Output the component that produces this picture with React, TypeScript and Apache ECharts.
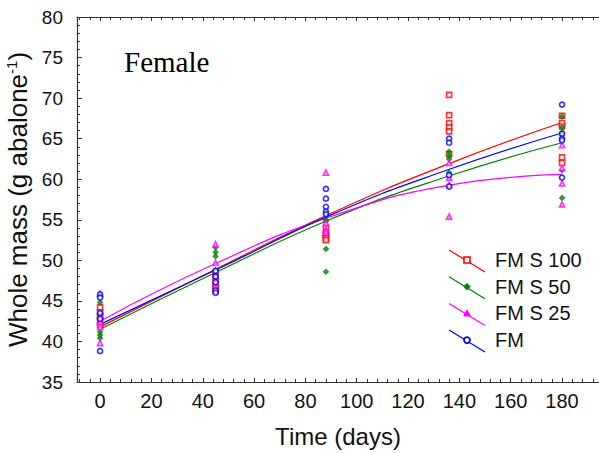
import React, { useEffect, useRef } from "react";
import * as echarts from "echarts";

// Sampling days of the measurements
const days = [0, 45, 88, 136, 180];

// Individual measurements (g abalone^-1), one inner array per sampling day
const fmS100 = [
  [44.2, 43.6, 43.1, 42.6, 42.0],
  [48.5, 47.8, 47.0, 46.6, 46.2],
  [54.0, 53.3, 53.0, 52.7, 52.5],
  [70.4, 67.9, 66.9, 66.4, 65.9, 63.1],
  [67.8, 66.9, 66.5, 62.7, 62.0],
];
const fmS50 = [
  [44.8, 41.2, 40.8, 40.4],
  [51.6, 51.0, 50.5, 48.8, 48.2],
  [55.0, 54.8, 51.4, 48.6],
  [63.4, 62.9, 62.5, 60.8],
  [67.7, 66.4, 65.8, 61.1, 57.7],
];
const fmS25 = [
  [45.9, 42.4, 41.8, 39.8],
  [52.0, 49.7, 48.0, 47.6, 47.2],
  [60.8, 54.6, 53.8, 53.5],
  [62.0, 60.2, 59.3, 55.4],
  [64.2, 61.4, 59.5, 56.9],
];
const fm = [
  [45.8, 45.4, 43.5, 42.8, 38.8],
  [48.7, 48.0, 47.3, 46.3, 46.0],
  [58.8, 57.6, 56.6, 56.0, 55.7],
  [65.0, 64.5, 60.5, 59.1],
  [69.2, 65.6, 65.0, 64.8, 60.2],
];

// Fitted growth curves at these days
const fitDays = [0, 45, 90, 135, 180];
const fitS100 = [41.8, 48.9, 55.8, 61.8, 67.0];
const fitS50 = [41.5, 48.5, 55.1, 60.3, 64.5];
const fitS25 = [42.5, 49.6, 55.4, 59.2, 60.6];
const fitFm = [42.1, 48.8, 55.6, 61.1, 65.7];

const seriesNames = ["FM S 100", "FM S 50", "FM S 25", "FM"];
const xTickLabels = ["0", "20", "40", "60", "80", "100", "120", "140", "160", "180"];

const COLORS = ["#ff0000", "#008000", "#ff00ff", "#0000ff"];
const SANS = "Liberation Sans, Arial, sans-serif";

function toPoints(groups: number[][]) {
  const out: number[][] = [];
  groups.forEach((vals, i) => vals.forEach((v) => out.push([days[i], v])));
  return out;
}
function toLine(vals: number[]) {
  return vals.map((v, i) => [fitDays[i], v]);
}

export default function App() {
  const ref = useRef<HTMLDivElement>(null);
  useEffect(() => {
    if (!ref.current) return;
    const chart = echarts.init(ref.current, null, { renderer: "svg" });
    const groups = [fmS100, fmS50, fmS25, fm];
    const fits = [fitS100, fitS50, fitS25, fitFm];
    const symbols = ["rect", "diamond", "triangle", "circle"];
    const hollow = [true, false, true, true];

    const lineSeries = fits.map((f, i) => ({
      type: "line",
      name: seriesNames[i],
      data: toLine(f),
      smooth: 0.5,
      showSymbol: false,
      silent: true,
      lineStyle: { color: COLORS[i], width: 1.2 },
      z: 2,
    }));
    const scatterSeries = groups.map((g, i) => ({
      type: "scatter",
      name: seriesNames[i] + " data",
      data: toPoints(g),
      symbol: symbols[i],
      symbolSize: i === 1 ? 6 : 5,
      itemStyle: hollow[i]
        ? { color: "#ffffff", borderColor: COLORS[i], borderWidth: 1.7 }
        : { color: COLORS[i], borderColor: COLORS[i], borderWidth: 0.6 },
      z: 3,
    }));

    // legend drawn as graphics (slanted line + marker + label)
    const legendEls: any[] = [];
    seriesNames.forEach((name, i) => {
      const cy = 260 + i * 26.7;
      const c = COLORS[i];
      legendEls.push({
        type: "line",
        shape: { x1: 449, y1: cy - 10, x2: 485, y2: cy + 12 },
        style: { stroke: c, lineWidth: 1.2 },
      });
      const mx = 467;
      if (i === 0) {
        legendEls.push({ type: "rect", shape: { x: mx - 3, y: cy - 3, width: 6, height: 6 }, style: { fill: "#fff", stroke: c, lineWidth: 1.6 } });
      } else if (i === 1) {
        legendEls.push({ type: "polygon", shape: { points: [[mx, cy - 3.5], [mx + 3.5, cy], [mx, cy + 3.5], [mx - 3.5, cy]] }, style: { fill: c, stroke: c, lineWidth: 0.5 } });
      } else if (i === 2) {
        legendEls.push({ type: "polygon", shape: { points: [[mx, cy - 3.5], [mx + 3.2, cy + 2.5], [mx - 3.2, cy + 2.5]] }, style: { fill: c, stroke: c, lineWidth: 1 } });
      } else {
        legendEls.push({ type: "circle", shape: { cx: mx, cy, r: 3 }, style: { fill: "#fff", stroke: c, lineWidth: 1.8 } });
      }
      legendEls.push({
        type: "text",
        x: 495,
        y: cy,
        style: { text: name, fill: "#111", font: `20px ${SANS}`, verticalAlign: "middle" },
      });
    });

    const axisColor = "#333";
    const xAxisCommon = {
      type: "value",
      min: -9,
      max: 194.4,
      splitNumber: 10,
      splitLine: { show: false },
      axisLine: { show: true, onZero: false, lineStyle: { color: axisColor, width: 1.2 } },
      axisTick: { show: true, inside: true, length: 4, lineStyle: { color: axisColor } },
      minorTick: { show: true, splitNumber: 5, length: 3, lineStyle: { color: axisColor } },
    };

    chart.setOption({
      animation: false,
      backgroundColor: "#ffffff",
      grid: { left: 77, right: 0, top: 17, bottom: 71, containLabel: false, outerBoundsMode: "none" },
      xAxis: [
        {
          ...xAxisCommon,
          position: "bottom",
          name: "Time (days)",
          nameLocation: "middle",
          nameGap: 42,
          nameTextStyle: { fontSize: 24, fontFamily: SANS, color: "#111" },
          axisLabel: {
            show: true,
            showMinLabel: false,
            showMaxLabel: false,
            margin: 9,
            fontSize: 20,
            fontFamily: SANS,
            color: "#111",
            formatter: (v: number) => (xTickLabels.includes(String(v)) ? String(v) : ""),
          },
        },
        {
          ...xAxisCommon,
          position: "top",
          axisLabel: { show: false },
        },
      ],
      yAxis: {
        type: "value",
        min: 35,
        max: 80,
        interval: 5,
        splitLine: { show: false },
        axisLine: { show: true, onZero: false, lineStyle: { color: axisColor, width: 1.2 } },
        axisTick: { show: true, inside: true, length: 5, lineStyle: { color: axisColor } },
        minorTick: { show: true, splitNumber: 5, length: 3, lineStyle: { color: axisColor } },
        axisLabel: { margin: 14, fontSize: 19, fontFamily: SANS, color: "#111" },
        name: "Whole mass (g abalone{sup|-1})",
        nameLocation: "middle",
        nameGap: 40,
        nameTextStyle: {
          fontSize: 26,
          fontFamily: SANS,
          color: "#111",
          rich: { sup: { fontSize: 15, fontFamily: SANS, color: "#111", verticalAlign: "top", padding: [0, 0, 12, 0] } },
        },
      },
      graphic: [
        {
          type: "text",
          x: 124,
          y: 62,
          style: { text: "Female", fill: "#000", font: `29px "Liberation Serif", "Times New Roman", serif`, verticalAlign: "middle" },
        },
        ...legendEls,
      ],
      series: [...lineSeries, ...scatterSeries],
    });
    return () => chart.dispose();
  }, []);
  return <div ref={ref} style={{ position: "fixed", left: 0, top: 0, width: 599, height: 453 }} />;
}
